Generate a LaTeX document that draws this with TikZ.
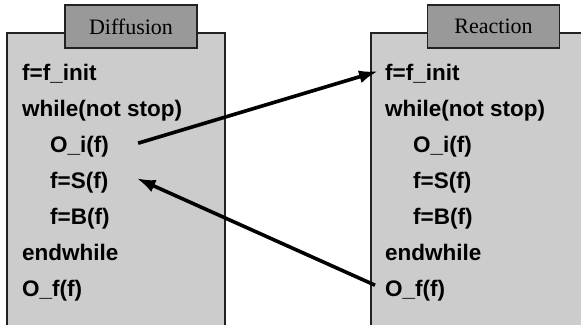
\documentclass[tikz,border=0pt]{standalone}
\usepackage{fontspec}
\setmainfont{Liberation Sans}
\newfontfamily\tabfont{Liberation Serif}
\usetikzlibrary{arrows.meta,calc}
\definecolor{panelgray}{HTML}{CCCCCC}
\definecolor{tabgray}{HTML}{999999}
\definecolor{edgegray}{HTML}{222222}
\begin{document}
\begin{tikzpicture}[x=1pt,y=-1pt,
  panel/.style={draw=edgegray,line width=1.3pt,fill=panelgray},
  tabbox/.style={draw=edgegray,line width=1.3pt,fill=tabgray,minimum width=132pt,minimum height=43pt,inner sep=0pt,
    font=\tabfont\fontsize{22}{25}\selectfont},
  code/.style={anchor=base west,inner sep=0pt,font=\bfseries\fontsize{22.5}{26}\selectfont},
  flow/.style={line width=3.6pt,-{Latex[length=19pt,width=13pt]}}]
\useasboundingbox (0,0) rectangle (581,324);
\clip (0,0) rectangle (581,324);
\fill[white] (0,0) rectangle (581,324);

% panels
\draw[panel] (7,33) rectangle (225,340);
\draw[panel] (371,33) rectangle (600,340);

% title tabs
\node[tabbox] (tabD) at (131,26.5) {Diffusion};
\node[tabbox] (tabR) at (493.5,26.5) {Reaction};

% left program
\node[code] (linit) at (22,80)  {f=f\_init};
\node[code] (lwhile) at (22,116) {while(not stop)};
\node[code] (loi) at (50,152) {O\_i(f)};
\node[code] (ls) at (50,188) {f=S(f)};
\node[code] (lb) at (50,224) {f=B(f)};
\node[code] (lend) at (22,260) {endwhile};
\node[code] (lof) at (22,296) {O\_f(f)};

% right program
\node[code] (rinit) at (385,80)  {f=f\_init};
\node[code] (rwhile) at (385,116) {while(not stop)};
\node[code] (roi) at (413,152) {O\_i(f)};
\node[code] (rs) at (413,188) {f=S(f)};
\node[code] (rb) at (413,224) {f=B(f)};
\node[code] (rend) at (385,260) {endwhile};
\node[code] (rof) at (385,296) {O\_f(f)};

% data exchange between the two loops
\coordinate (a1s) at ($(loi.east)+(29,-3)$);
\coordinate (a1e) at ($(rinit.west)+(-7,-2)$);
\coordinate (a2s) at ($(rof.west)+(-10,-5)$);
\coordinate (a2e) at ($(ls.east)+(28,-4)$);
\draw[flow] (a1s) -- (a1e);
\draw[flow] (a2s) -- (a2e);
\end{tikzpicture}
\end{document}
